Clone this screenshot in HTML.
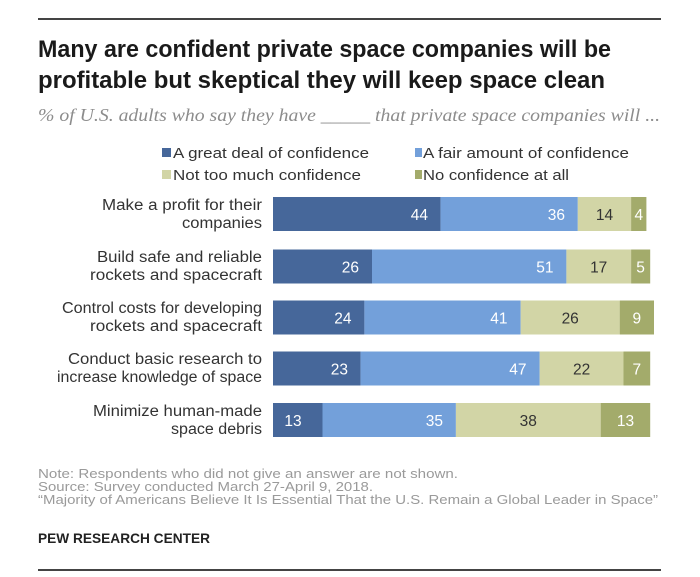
<!DOCTYPE html>
<html>
<head>
<meta charset="utf-8">
<style>
  html, body { margin: 0; padding: 0; background: #ffffff; }
  svg { display: block; }
  .lbl { font-family: "Liberation Sans", Arial, sans-serif; font-size: 15.5px; fill: #333333; }
  .num { font-family: "Liberation Sans", Arial, sans-serif; font-size: 15.5px; }
  .w { fill: #ffffff; }
  .d { fill: #333333; }
</style>
</head>
<body>
<svg width="700" height="577" viewBox="0 0 700 577" xmlns="http://www.w3.org/2000/svg">
  <rect x="0" y="0" width="700" height="577" fill="#ffffff"/>
  <!-- top rule -->
  <rect x="38" y="18" width="623" height="2" fill="#444444"/>

  <!-- title -->
  <text x="38" y="57" font-family="Liberation Sans, Arial, sans-serif" font-weight="bold" font-size="24" fill="#1a1a1a" textLength="573" lengthAdjust="spacingAndGlyphs">Many are confident private space companies will be</text>
  <text x="38" y="88" font-family="Liberation Sans, Arial, sans-serif" font-weight="bold" font-size="24" fill="#1a1a1a" textLength="567" lengthAdjust="spacingAndGlyphs">profitable but skeptical they will keep space clean</text>

  <!-- subtitle -->
  <text x="38" y="121" font-family="Liberation Serif, Georgia, serif" font-style="italic" font-size="18" fill="#8c8c8c" textLength="622" lengthAdjust="spacingAndGlyphs">% of U.S. adults who say they have _____ that private space companies will ...</text>

  <!-- legend -->
  <rect x="162" y="148" width="9" height="9" fill="#46679a"/>
  <text x="173" y="158" font-family="Liberation Sans, Arial, sans-serif" font-size="15" fill="#333" textLength="196" lengthAdjust="spacingAndGlyphs">A great deal of confidence</text>
  <rect x="415" y="148" width="7" height="9" fill="#73a0da"/>
  <text x="423" y="158" font-family="Liberation Sans, Arial, sans-serif" font-size="15" fill="#333" textLength="206" lengthAdjust="spacingAndGlyphs">A fair amount of confidence</text>
  <rect x="162" y="170" width="9" height="9" fill="#d2d5a6"/>
  <text x="173" y="180" font-family="Liberation Sans, Arial, sans-serif" font-size="15" fill="#333" textLength="188" lengthAdjust="spacingAndGlyphs">Not too much confidence</text>
  <rect x="415" y="170" width="7" height="9" fill="#a3ab6b"/>
  <text x="423" y="180" font-family="Liberation Sans, Arial, sans-serif" font-size="15" fill="#333" textLength="146" lengthAdjust="spacingAndGlyphs">No confidence at all</text>

  <!-- Row 1 -->
  <text class="lbl" x="262" y="210" text-anchor="end" textLength="160" lengthAdjust="spacingAndGlyphs">Make a profit for their</text>
  <text class="lbl" x="262" y="228" text-anchor="end" textLength="80" lengthAdjust="spacingAndGlyphs">companies</text>
  <rect x="273" y="197" width="167.6" height="34" fill="#46679a"/>
  <rect x="440.6" y="197" width="137.2" height="34" fill="#73a0da"/>
  <rect x="577.8" y="197" width="53.3" height="34" fill="#d2d5a6"/>
  <rect x="631.1" y="197" width="15.3" height="34" fill="#a3ab6b"/>
  <text class="num w" x="428" y="220" text-anchor="end">44</text>
  <text class="num w" x="565" y="220" text-anchor="end">36</text>
  <text class="num d" x="604.5" y="220" text-anchor="middle">14</text>
  <text class="num w" x="638.8" y="220" text-anchor="middle">4</text>

  <!-- Row 2 -->
  <text class="lbl" x="262" y="262" text-anchor="end" textLength="165" lengthAdjust="spacingAndGlyphs">Build safe and reliable</text>
  <text class="lbl" x="262" y="280" text-anchor="end" textLength="172" lengthAdjust="spacingAndGlyphs">rockets and spacecraft</text>
  <rect x="273" y="249.5" width="99" height="34" fill="#46679a"/>
  <rect x="372" y="249.5" width="194.4" height="34" fill="#73a0da"/>
  <rect x="566.4" y="249.5" width="64.7" height="34" fill="#d2d5a6"/>
  <rect x="631.1" y="249.5" width="19.1" height="34" fill="#a3ab6b"/>
  <text class="num w" x="359" y="272.5" text-anchor="end">26</text>
  <text class="num w" x="553.5" y="272.5" text-anchor="end">51</text>
  <text class="num d" x="598.7" y="272.5" text-anchor="middle">17</text>
  <text class="num w" x="640.6" y="272.5" text-anchor="middle">5</text>

  <!-- Row 3 -->
  <text class="lbl" x="262" y="313" text-anchor="end" textLength="200" lengthAdjust="spacingAndGlyphs">Control costs for developing</text>
  <text class="lbl" x="262" y="331" text-anchor="end" textLength="172" lengthAdjust="spacingAndGlyphs">rockets and spacecraft</text>
  <rect x="273" y="300.5" width="91.4" height="34" fill="#46679a"/>
  <rect x="364.4" y="300.5" width="156.3" height="34" fill="#73a0da"/>
  <rect x="520.7" y="300.5" width="99" height="34" fill="#d2d5a6"/>
  <rect x="619.7" y="300.5" width="34.3" height="34" fill="#a3ab6b"/>
  <text class="num w" x="351.5" y="323.5" text-anchor="end">24</text>
  <text class="num w" x="507.5" y="323.5" text-anchor="end">41</text>
  <text class="num d" x="570.2" y="323.5" text-anchor="middle">26</text>
  <text class="num w" x="636.8" y="323.5" text-anchor="middle">9</text>

  <!-- Row 4 -->
  <text class="lbl" x="262" y="364" text-anchor="end" textLength="194" lengthAdjust="spacingAndGlyphs">Conduct basic research to</text>
  <text class="lbl" x="262" y="382" text-anchor="end" textLength="205" lengthAdjust="spacingAndGlyphs">increase knowledge of space</text>
  <rect x="273" y="351.5" width="87.6" height="34" fill="#46679a"/>
  <rect x="360.6" y="351.5" width="179.1" height="34" fill="#73a0da"/>
  <rect x="539.7" y="351.5" width="83.8" height="34" fill="#d2d5a6"/>
  <rect x="623.5" y="351.5" width="26.7" height="34" fill="#a3ab6b"/>
  <text class="num w" x="348" y="374.5" text-anchor="end">23</text>
  <text class="num w" x="526.5" y="374.5" text-anchor="end">47</text>
  <text class="num d" x="581.6" y="374.5" text-anchor="middle">22</text>
  <text class="num w" x="636.8" y="374.5" text-anchor="middle">7</text>

  <!-- Row 5 -->
  <text class="lbl" x="262" y="416" text-anchor="end" textLength="169" lengthAdjust="spacingAndGlyphs">Minimize human-made</text>
  <text class="lbl" x="262" y="434" text-anchor="end" textLength="91" lengthAdjust="spacingAndGlyphs">space debris</text>
  <rect x="273" y="403" width="49.5" height="34" fill="#46679a"/>
  <rect x="322.5" y="403" width="133.4" height="34" fill="#73a0da"/>
  <rect x="455.9" y="403" width="144.8" height="34" fill="#d2d5a6"/>
  <rect x="600.7" y="403" width="49.5" height="34" fill="#a3ab6b"/>
  <text class="num w" x="293" y="426" text-anchor="middle">13</text>
  <text class="num w" x="443" y="426" text-anchor="end">35</text>
  <text class="num d" x="528.3" y="426" text-anchor="middle">38</text>
  <text class="num w" x="625.5" y="426" text-anchor="middle">13</text>

  <!-- footer -->
  <text x="38" y="478" font-family="Liberation Sans, Arial, sans-serif" font-size="13" fill="#9a9a9a" textLength="420" lengthAdjust="spacingAndGlyphs">Note: Respondents who did not give an answer are not shown.</text>
  <text x="38" y="491" font-family="Liberation Sans, Arial, sans-serif" font-size="13" fill="#9a9a9a" textLength="335" lengthAdjust="spacingAndGlyphs">Source: Survey conducted March 27-April 9, 2018.</text>
  <text x="38" y="504" font-family="Liberation Sans, Arial, sans-serif" font-size="13" fill="#9a9a9a" textLength="620" lengthAdjust="spacingAndGlyphs">“Majority of Americans Believe It Is Essential That the U.S. Remain a Global Leader in Space”</text>
  <text x="38" y="543" font-family="Liberation Sans, Arial, sans-serif" font-size="14" font-weight="bold" fill="#222222" textLength="172" lengthAdjust="spacingAndGlyphs">PEW RESEARCH CENTER</text>

  <!-- bottom rule -->
  <rect x="38" y="569" width="623" height="2" fill="#444444"/>
</svg>
</body>
</html>
